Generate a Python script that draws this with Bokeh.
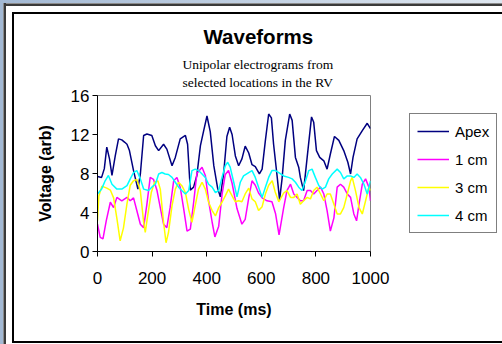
from bokeh.plotting import figure
from bokeh.models import Range1d, FixedTicker, Legend, LegendItem, Title
from bokeh.embed import file_html
from bokeh.resources import INLINE

# ---------------- data ----------------
apex_t = [0, 15, 25, 34, 44, 53, 65, 77, 89, 100, 108, 117, 132, 148, 157, 169, 181, 199, 212, 224,
          242, 254, 273, 285, 303, 322, 330, 340, 352, 364, 377, 389, 401, 413, 426, 440, 450, 462,
          474, 484, 493, 505, 517, 529, 541, 554, 566, 578, 593, 603, 615, 627, 637, 645, 658, 667,
          676, 688, 704, 713, 725, 737, 743, 755, 768, 784, 792, 802, 814, 829, 841, 853, 868, 884,
          902, 917, 927, 936, 951, 970, 988, 1000]
apex_v = [7.7, 7.6, 8.5, 10.7, 9.5, 7.8, 9.8, 11.55, 11.45, 11.2, 11.0, 10.35, 8.3, 6.4, 7.95, 11.9,
          12.05, 11.9, 10.85, 10.35, 11.0, 10.5, 8.8, 9.65, 11.55, 11.9, 11.0, 6.3, 6.6, 7.8, 10.85,
          12.4, 13.9, 12.3, 8.8, 6.5, 5.6, 8.0, 11.8, 12.75, 12.0, 9.8, 8.8, 9.5, 10.8, 10.1, 8.9,
          8.7, 7.95, 8.45, 11.4, 14.1, 13.7, 11.0, 7.7, 5.3, 7.45, 11.4, 14.1, 13.45, 9.65, 8.65,
          7.6, 6.25, 9.65, 13.8, 13.25, 10.35, 9.65, 9.3, 8.45, 10.0, 11.8, 11.4, 10.35, 9.15, 7.95,
          9.65, 11.55, 12.4, 13.15, 12.6]

cm1_t = [0, 10, 20, 32, 47, 59, 71, 89, 108, 120, 132, 144, 157, 169, 181, 193, 205, 218, 230, 242,
         254, 266, 279, 291, 303, 315, 328, 340, 352, 364, 383, 395, 407, 420, 430, 444, 456, 468,
         480, 493, 511, 529, 541, 554, 566, 578, 590, 603, 621, 639, 652, 665, 682, 694, 707, 719,
         731, 743, 755, 768, 780, 792, 804, 817, 829, 841, 853, 866, 878, 890, 902, 915, 927, 939,
         949, 958, 970, 982, 994, 1000]
cm1_v = [2.8, 1.45, 1.3, 3.15, 5.05, 4.5, 5.55, 5.2, 5.55, 5.2, 5.5, 4.2, 2.8, 2.45, 4.85, 7.6, 7.4,
         6.25, 4.5, 2.8, 2.45, 4.5, 7.25, 7.6, 6.6, 4.5, 2.1, 2.3, 5.0, 8.0, 8.65, 7.8, 5.2, 3.0,
         1.5, 2.6, 5.8, 7.9, 8.3, 7.0, 4.4, 2.8, 3.3, 5.5, 7.25, 6.8, 6.0, 5.5, 5.2, 5.1, 3.9, 1.7,
         4.5, 6.25, 6.9, 5.9, 5.55, 5.2, 5.2, 6.25, 6.25, 5.9, 6.25, 6.6, 5.9, 4.2, 2.1, 3.45, 6.6,
         6.9, 6.6, 5.9, 5.55, 3.85, 3.15, 4.85, 6.9, 7.45, 6.6, 5.2]

cm3_t = [0, 5, 16, 34, 47, 59, 71, 83, 95, 108, 120, 132, 144, 157, 169, 175, 184, 197, 209, 221,
         230, 242, 251, 260, 273, 285, 297, 309, 322, 334, 346, 358, 370, 383, 395, 407, 420, 432,
         444, 456, 468, 480, 493, 505, 517, 529, 541, 554, 566, 578, 590, 603, 615, 627, 640, 651,
         664, 682, 694, 707, 719, 731, 743, 755, 768, 780, 792, 804, 817, 829, 841, 853, 866, 878,
         890, 902, 915, 927, 933, 945, 958, 970, 982, 994, 1000]
cm3_v = [3.15, 5.7, 6.7, 6.5, 6.3, 5.5, 3.4, 1.1, 2.4, 4.9, 6.8, 7.25, 7.4, 6.2, 3.0, 1.95, 3.7,
         6.05, 7.1, 7.25, 6.4, 3.0, 0.9, 1.95, 4.7, 6.4, 7.1, 6.75, 6.05, 4.3, 3.0, 4.7, 6.4, 7.1,
         6.4, 5.05, 4.2, 3.65, 4.5, 5.05, 5.7, 6.4, 5.7, 5.1, 5.2, 5.1, 5.9, 6.5, 5.4, 5.1, 4.2,
         4.6, 5.9, 6.8, 7.25, 6.1, 5.1, 6.0, 6.25, 5.55, 5.55, 5.9, 4.85, 5.2, 5.55, 5.4, 6.25,
         6.6, 5.9, 5.2, 5.9, 5.9, 4.85, 3.85, 3.85, 4.5, 5.9, 7.25, 7.6, 6.25, 4.5, 3.85, 5.2,
         6.6, 6.25]

cm4_t = [0, 15, 28, 40, 53, 71, 89, 108, 120, 132, 144, 157, 169, 187, 199, 212, 224, 236, 248, 260,
         273, 285, 297, 309, 322, 334, 346, 358, 370, 383, 395, 407, 420, 432, 444, 456, 468, 477,
         486, 499, 511, 523, 535, 554, 566, 578, 590, 603, 615, 627, 639, 652, 664, 682, 700, 713,
         725, 737, 749, 762, 774, 786, 798, 811, 823, 835, 847, 860, 878, 890, 902, 915, 927, 939,
         951, 963, 976, 988, 1000]
cm4_v = [5.9, 6.4, 7.25, 7.8, 6.9, 6.4, 6.4, 6.75, 7.45, 8.1, 8.3, 7.45, 6.4, 6.25, 6.6, 6.9, 7.95,
         8.1, 7.95, 7.9, 7.6, 7.1, 6.6, 6.25, 5.9, 6.25, 8.3, 8.45, 8.3, 7.95, 7.6, 6.9, 6.6, 6.05,
         6.25, 7.6, 8.8, 9.15, 8.65, 7.1, 5.6, 7.1, 7.75, 8.1, 8.3, 7.6, 6.6, 5.55, 6.6, 7.6, 8.3,
         8.3, 8.1, 7.75, 7.6, 7.45, 7.1, 6.6, 6.25, 7.25, 8.3, 8.45, 7.6, 6.75, 6.4, 6.6, 7.45,
         7.95, 8.45, 8.1, 7.45, 7.75, 7.75, 7.6, 7.95, 7.6, 6.9, 5.9, 7.25]

series_names = ["Apex", "1 cm", "3 cm", "4 cm"]
series_colors = ["#000080", "#ff00ff", "#ffff00", "#00ffff"]
x_ticks = [0, 200, 400, 600, 800, 1000]
y_ticks = [0, 4, 8, 12, 16]

title_text = "Waveforms"
subtitle_lines = ["Unipolar electrograms from", "selected locations in the RV"]

SANS = "Liberation Sans"
SERIF = "Liberation Serif"

# ---------------- figure ----------------
p = figure(width=502, height=344, frame_width=273, frame_height=156,
           output_backend="svg", toolbar_location=None, title=None,
           x_range=Range1d(0, 1000), y_range=Range1d(0, 16),
           min_border_left=97, min_border_right=132, min_border_top=95, min_border_bottom=93)
p.background_fill_color = "white"
p.border_fill_color = None
p.outline_line_color = "#808080"
p.outline_line_width = 1
p.xgrid.visible = False
p.ygrid.visible = False

# window chrome / chart-area border painted behind the (transparent) canvas border
_bg = [
    "linear-gradient(#000,#000) 12px 12px / 2px 331px no-repeat",
    "linear-gradient(#000,#000) 12px 12px / 490px 2px no-repeat",
    "linear-gradient(#000,#000) 12px 341px / 490px 2px no-repeat",
    "linear-gradient(to right, #8c8c8c 0 1px, #3a3a3a 1px 3px) 3px 3px / 3px 341px no-repeat",
    "linear-gradient(to bottom, #8c8c8c 0 1px, #3a3a3a 1px 3px) 3px 3px / 499px 3px no-repeat",
    "linear-gradient(to right, #a3b9d4, #dfe7f0) 0 0 / 502px 4px no-repeat",
    "linear-gradient(#a3b9d4,#a3b9d4) 0 0 / 4px 344px no-repeat",
    "#ffffff",
]
p.styles = {"background": ", ".join(_bg)}

for ax, ticks in ((p.xaxis[0], x_ticks), (p.yaxis[0], y_ticks)):
    ax.ticker = FixedTicker(ticks=ticks)
    ax.minor_tick_line_color = None
    ax.axis_line_color = "black"
    ax.major_tick_line_color = "black"
    ax.major_tick_in = 0
    ax.major_tick_out = 5
    ax.major_label_text_font = SANS
    ax.major_label_text_font_size = "17px"
    ax.major_label_text_color = "black"
    ax.axis_label_text_font = SANS
    ax.axis_label_text_font_size = "16px"
    ax.axis_label_text_font_style = "bold"
    ax.axis_label_text_color = "black"

p.xaxis.axis_label = "Time (ms)"
p.yaxis.axis_label = "Voltage (arb)"
p.xaxis.major_label_standoff = 15
p.yaxis.major_label_standoff = 3
p.xaxis.axis_label_standoff = 14
p.yaxis.axis_label_standoff = 14

renderers = []
data_series = ((apex_t, apex_v), (cm1_t, cm1_v), (cm3_t, cm3_v), (cm4_t, cm4_v))
for (t, v), c in zip(data_series, series_colors):
    renderers.append(p.line(t, v, line_color=c, line_width=1.5))

# legend offset from the right edge of the plot frame (px) and from its bottom (px)
legend = Legend(items=[LegendItem(label=n, renderers=[r]) for n, r in zip(series_names, renderers)],
                location=(39, 18))
legend.label_text_font = SANS
legend.label_text_font_size = "15px"
legend.label_text_color = "black"
legend.border_line_color = "black"
legend.border_line_width = 1
legend.background_fill_color = "white"
legend.background_fill_alpha = 1
legend.glyph_width = 32
legend.glyph_height = 20
legend.label_height = 20
legend.label_standoff = 6
legend.spacing = 8
legend.padding = 7
legend.margin = 0
p.add_layout(legend, "right")

# titles: nearest to the frame first
p.add_layout(Title(text="\n".join(subtitle_lines), text_font=SERIF, text_font_size="13.5px",
                   text_font_style="normal", text_color="black", text_line_height=1.2,
                   align="left", offset=85, standoff=12), "above")
p.add_layout(Title(text=title_text, text_font=SANS, text_font_size="20.5px",
                   text_font_style="bold", text_color="black", align="left", offset=106,
                   standoff=2), "above")

open("out.html", "w").write(file_html(p, INLINE))
